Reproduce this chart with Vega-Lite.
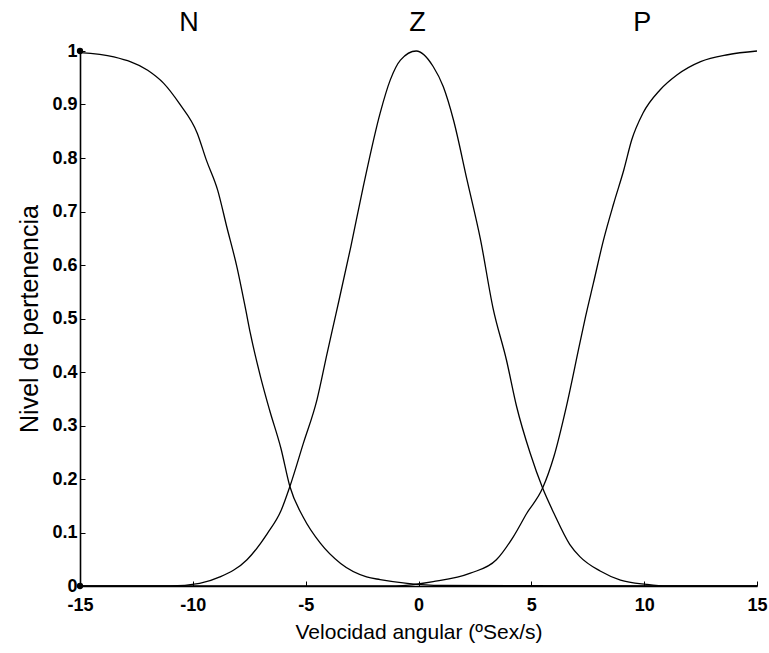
{
  "$schema": "https://vega.github.io/schema/vega-lite/v6.json",
  "autosize": "none",
  "width": 677,
  "height": 535,
  "padding": {"left": 80, "top": 51, "right": 12, "bottom": 67},
  "background": "white",
  "config": {
    "view": {"stroke": null},
    "font": "Liberation Sans",
    "axis": {"grid": false, "domainColor": "black", "tickColor": "black", "labelColor": "black", "titleColor": "black", "labelFont": "Liberation Sans", "titleFont": "Liberation Sans", "titleFontWeight": "normal", "labelFontWeight": "bold", "domainWidth": 1.6, "tickWidth": 1}
  },
  "datasets": {
    "curves": [
      {"serie": "N", "x": -15, "y": 0.997},
      {"serie": "N", "x": -13.5, "y": 0.989},
      {"serie": "N", "x": -12, "y": 0.964},
      {"serie": "N", "x": -11.3, "y": 0.94},
      {"serie": "N", "x": -10.6, "y": 0.902},
      {"serie": "N", "x": -9.8, "y": 0.846},
      {"serie": "N", "x": -9.4, "y": 0.796},
      {"serie": "N", "x": -8.9, "y": 0.74},
      {"serie": "N", "x": -8.5, "y": 0.672},
      {"serie": "N", "x": -8.05, "y": 0.597},
      {"serie": "N", "x": -7.65, "y": 0.515},
      {"serie": "N", "x": -7.45, "y": 0.472},
      {"serie": "N", "x": -7.0, "y": 0.391},
      {"serie": "N", "x": -6.6, "y": 0.329},
      {"serie": "N", "x": -6.1, "y": 0.258},
      {"serie": "N", "x": -5.7, "y": 0.186},
      {"serie": "N", "x": -5.1, "y": 0.128},
      {"serie": "N", "x": -4.35, "y": 0.08},
      {"serie": "N", "x": -3.45, "y": 0.042},
      {"serie": "N", "x": -2.3, "y": 0.017},
      {"serie": "N", "x": -1.7, "y": 0.012},
      {"serie": "N", "x": -0.5, "y": 0.005},
      {"serie": "N", "x": 1, "y": 0.001},
      {"serie": "N", "x": 15, "y": 0},
      {"serie": "Z", "x": -15, "y": 0},
      {"serie": "Z", "x": -11, "y": 0},
      {"serie": "Z", "x": -9.7, "y": 0.005},
      {"serie": "Z", "x": -8.8, "y": 0.017},
      {"serie": "Z", "x": -7.6, "y": 0.049},
      {"serie": "Z", "x": -6.7, "y": 0.098},
      {"serie": "Z", "x": -6.1, "y": 0.14},
      {"serie": "Z", "x": -5.7, "y": 0.186},
      {"serie": "Z", "x": -5.1, "y": 0.267},
      {"serie": "Z", "x": -4.5, "y": 0.348},
      {"serie": "Z", "x": -4.05, "y": 0.435},
      {"serie": "Z", "x": -3.65, "y": 0.51},
      {"serie": "Z", "x": -3.0, "y": 0.634},
      {"serie": "Z", "x": -2.45, "y": 0.746},
      {"serie": "Z", "x": -1.7, "y": 0.884},
      {"serie": "Z", "x": -1.25, "y": 0.946},
      {"serie": "Z", "x": -0.8, "y": 0.983},
      {"serie": "Z", "x": -0.1, "y": 1.0},
      {"serie": "Z", "x": 0.65, "y": 0.971},
      {"serie": "Z", "x": 1.1, "y": 0.933},
      {"serie": "Z", "x": 1.55, "y": 0.871},
      {"serie": "Z", "x": 2.15, "y": 0.759},
      {"serie": "Z", "x": 2.75, "y": 0.647},
      {"serie": "Z", "x": 3.3, "y": 0.52},
      {"serie": "Z", "x": 3.9, "y": 0.422},
      {"serie": "Z", "x": 4.35, "y": 0.335},
      {"serie": "Z", "x": 4.95, "y": 0.248},
      {"serie": "Z", "x": 5.5, "y": 0.183},
      {"serie": "Z", "x": 6.0, "y": 0.136},
      {"serie": "Z", "x": 6.7, "y": 0.078},
      {"serie": "Z", "x": 7.15, "y": 0.055},
      {"serie": "Z", "x": 8.05, "y": 0.028},
      {"serie": "Z", "x": 8.95, "y": 0.011},
      {"serie": "Z", "x": 10.1, "y": 0.003},
      {"serie": "Z", "x": 11, "y": 0},
      {"serie": "Z", "x": 15, "y": 0},
      {"serie": "P", "x": -15, "y": 0},
      {"serie": "P", "x": -1, "y": 0},
      {"serie": "P", "x": 0.65, "y": 0.008},
      {"serie": "P", "x": 2.3, "y": 0.024},
      {"serie": "P", "x": 3.45, "y": 0.049},
      {"serie": "P", "x": 4.2, "y": 0.092},
      {"serie": "P", "x": 4.8, "y": 0.136},
      {"serie": "P", "x": 5.5, "y": 0.183},
      {"serie": "P", "x": 6.0, "y": 0.242},
      {"serie": "P", "x": 6.55, "y": 0.335},
      {"serie": "P", "x": 7.15, "y": 0.454},
      {"serie": "P", "x": 7.4, "y": 0.503},
      {"serie": "P", "x": 7.75, "y": 0.566},
      {"serie": "P", "x": 8.2, "y": 0.647},
      {"serie": "P", "x": 8.65, "y": 0.715},
      {"serie": "P", "x": 9.1, "y": 0.778},
      {"serie": "P", "x": 9.45, "y": 0.834},
      {"serie": "P", "x": 9.95, "y": 0.884},
      {"serie": "P", "x": 10.7, "y": 0.927},
      {"serie": "P", "x": 11.45, "y": 0.955},
      {"serie": "P", "x": 12.5, "y": 0.98},
      {"serie": "P", "x": 13.7, "y": 0.993},
      {"serie": "P", "x": 15, "y": 1.0}
    ],
    "labels": [
      {"x": -10.17, "y": 1.053, "t": "N"},
      {"x": -0.04, "y": 1.053, "t": "Z"},
      {"x": 9.91, "y": 1.053, "t": "P"}
    ],
    "dots": [
      {"x": -15, "y": 1},
      {"x": -15, "y": 0}
    ]
  },
  "layer": [
    {
      "data": {"name": "curves"},
      "mark": {"type": "line", "color": "black", "strokeWidth": 1.3, "interpolate": "monotone"},
      "encoding": {
        "x": {"field": "x", "type": "quantitative", "scale": {"domain": [-15, 15], "nice": false},
          "axis": {"values": [-15, -10, -5, 0, 5, 10, 15], "labelExpr": "datum.value < 0 ? '-' + abs(datum.value) : '' + datum.value", "title": "Velocidad angular (ºSex/s)", "tickSize": -5, "labelFontSize": 18, "labelPadding": 15, "titleFontSize": 21, "titlePadding": 7, "labelFlush": false}},
        "y": {"field": "y", "type": "quantitative", "scale": {"domain": [0, 1], "nice": false},
          "axis": {"values": [0, 0.1, 0.2, 0.3, 0.4, 0.5, 0.6, 0.7, 0.8, 0.9, 1], "format": "~g", "title": "Nivel de pertenencia", "tickSize": -5, "labelFontSize": 18, "labelPadding": 8, "titleFontSize": 25, "titlePadding": 9}},
        "detail": {"field": "serie", "type": "nominal"}
      }
    },
    {
      "data": {"name": "dots"},
      "mark": {"type": "point", "filled": true, "color": "black", "size": 40, "opacity": 1, "clip": false},
      "encoding": {
        "x": {"field": "x", "type": "quantitative"},
        "y": {"field": "y", "type": "quantitative"}
      }
    },
    {
      "data": {"name": "labels"},
      "mark": {"type": "text", "fontSize": 27, "font": "Liberation Sans", "color": "black", "baseline": "middle", "align": "center", "clip": false},
      "encoding": {
        "x": {"field": "x", "type": "quantitative"},
        "y": {"field": "y", "type": "quantitative"},
        "text": {"field": "t", "type": "nominal"}
      }
    }
  ]
}
